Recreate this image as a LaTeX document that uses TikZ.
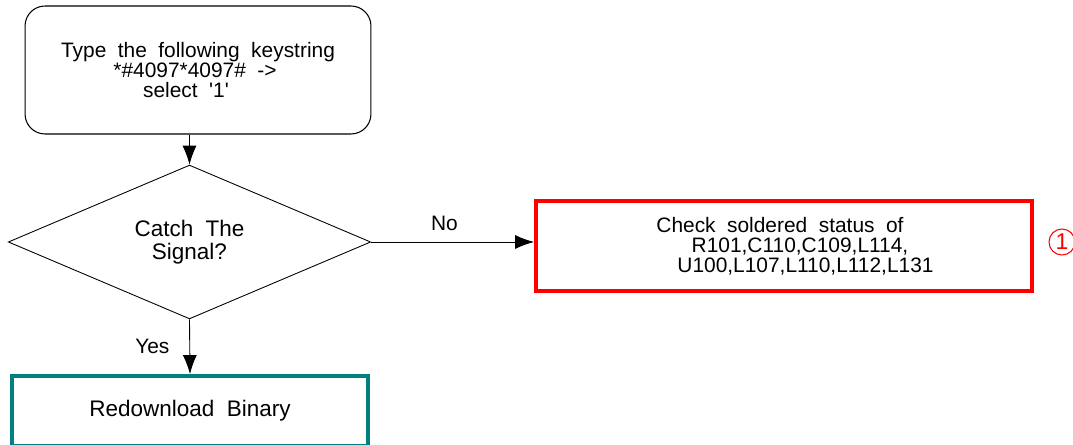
\documentclass[tikz,border=0pt]{standalone}
\usepackage{fontspec}
\setmainfont{Liberation Sans}
\usepackage{xcolor}
\usepackage{tikz}
\usetikzlibrary{arrows.meta,positioning,shapes.geometric}

\definecolor{sigred}{RGB}{255,0,0}
\definecolor{sigteal}{RGB}{0,128,128}
% wide word gaps as in the drawing
\newcommand\flowfont[2]{\fontsize{#1}{#2}\selectfont\spaceskip=0.55em\relax}

\begin{document}
\begin{tikzpicture}[
  x=0.02cm, y=-0.02cm,
  font=\flowfont{11.9}{11.4},
  stepbox/.style={rectangle, draw=black, line width=0.6pt, rounded corners=0.4cm,
                  minimum width=6.92cm, minimum height=2.56cm, align=center},
  decide/.style={diamond, draw=black, line width=0.5pt, inner sep=0pt,
                 minimum width=7.25cm, minimum height=3cm, align=center,
                 font=\flowfont{12.8}{13.1}},
  fixbox/.style={rectangle, line width=2.2pt, minimum width=9.92cm,
                 minimum height=1.8cm, align=center},
  okbox/.style={rectangle, line width=2.2pt, minimum width=7.12cm,
                minimum height=1.4cm, align=center, font=\flowfont{12.8}{13.1}},
  tag/.style={circle, draw=sigred, text=sigred, line width=0.6pt,
              minimum size=0.52cm, inner sep=0pt, font=\flowfont{13}{13}},
  flow/.style={-{Latex[length=3.8mm,width=2.8mm]}, line width=0.5pt}
]
\useasboundingbox (0,0) rectangle (1073,445);

\node[stepbox] (keys) at (198,70)
  {Type the following keystring\\
   \hspace*{-0.12cm}*\#4097*4097\# ->\\
   \hspace*{-0.48cm}select \textquotesingle 1\textquotesingle};
\node[decide] (catch) at (189.5,242) {Catch The\\Signal?};
\node[fixbox, draw=sigred] (solder) at (784,246)
  {\hspace*{-0.16cm}Check soldered status of\\
   \hspace*{0.64cm}R101,C110,C109,L114,\\
   \hspace*{0.86cm}U100,L107,L110,L112,L131};
\node[okbox, draw=sigteal] (redl) at (190,411) {Redownload Binary};

% step marker, cut by the page edge
\node[tag] (mark) at (1062,242) {1};

\draw[flow] (keys.south -| catch.north) -- (catch.north);
\draw[flow] (catch.east) -- node[above=3pt, pos=0.45]{No} (catch.east -| solder.west);
\draw[flow] (catch.south) -- node[left=8pt]{Yes} (redl.north);

\end{tikzpicture}
\end{document}
